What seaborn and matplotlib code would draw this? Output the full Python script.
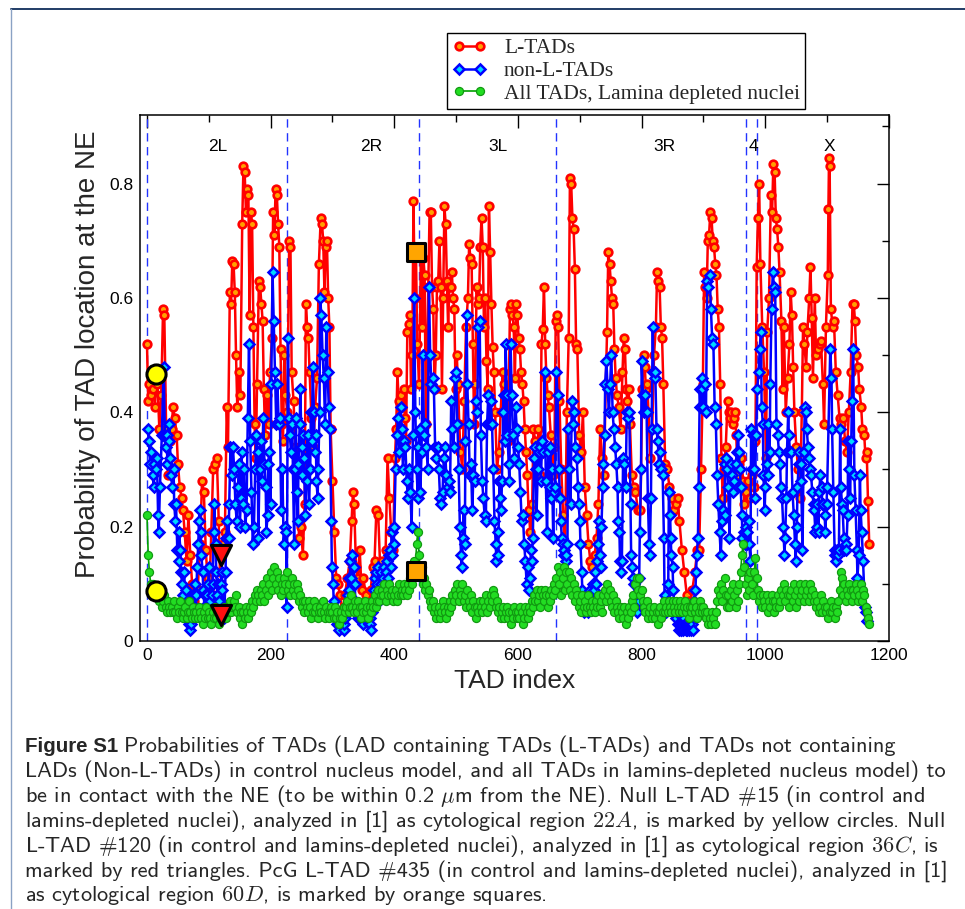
import numpy as np
import pandas as pd
import matplotlib
matplotlib.use("Agg")
import matplotlib.pyplot as plt
from matplotlib.lines import Line2D
from matplotlib.ticker import MultipleLocator
import seaborn as sns

# ---------------------------------------------------------------- data
# TADs that contain LADs (control nucleus model)
ltad_index = [
    0, 2, 4, 6, 8, 10, 13, 15, 17, 20,
    23, 26, 28, 31, 34, 37, 40, 42, 45, 48,
    50, 53, 56, 58, 61, 64, 67, 70, 73, 76,
    79, 82, 86, 89, 92, 95, 98, 101, 104, 107,
    110, 113, 116, 118, 120, 123, 126, 129, 131, 134,
    136, 138, 140, 142, 144, 146, 148, 151, 154, 156,
    158, 160, 162, 164, 166, 168, 170, 172, 174, 176,
    178, 181, 183, 185, 187, 189, 191, 194, 197, 199,
    202, 204, 206, 208, 210, 212, 214, 216, 218, 220,
    222, 224, 227, 230, 232, 234, 237, 240, 243, 246,
    249, 252, 255, 257, 259, 261, 263, 266, 269, 272,
    275, 278, 281, 283, 285, 287, 289, 291, 293, 295,
    297, 300, 303, 306, 309, 312, 316, 320, 324, 328,
    331, 333, 335, 338, 341, 344, 347, 350, 354, 358,
    362, 365, 368, 371, 374, 377, 380, 383, 386, 389,
    392, 395, 398, 401, 403, 405, 407, 409, 411, 413,
    415, 417, 419, 421, 423, 425, 427, 429, 431, 433,
    435, 437, 440, 443, 445, 447, 449, 451, 453, 455,
    457, 459, 461, 463, 465, 467, 469, 471, 473, 475,
    477, 479, 481, 483, 485, 487, 489, 491, 493, 495,
    497, 499, 501, 503, 505, 507, 510, 513, 516, 519,
    521, 523, 525, 527, 529, 531, 533, 535, 537, 539,
    541, 543, 545, 547, 549, 551, 553, 555, 557, 559,
    561, 563, 566, 569, 572, 575, 578, 581, 584, 587,
    589, 591, 593, 595, 597, 599, 601, 603, 605, 607,
    609, 611, 613, 615, 617, 620, 623, 625, 628, 631,
    633, 636, 638, 640, 642, 644, 646, 648, 650, 653,
    656, 659, 661, 663, 665, 667, 670, 673, 676, 679,
    682, 684, 686, 688, 690, 692, 694, 696, 699, 702,
    705, 708, 711, 714, 717, 720, 724, 727, 730, 733,
    736, 739, 742, 744, 746, 748, 750, 752, 754, 756,
    758, 760, 763, 766, 769, 771, 773, 775, 777, 779,
    781, 784, 787, 790, 794, 798, 801, 803, 805, 807,
    809, 811, 814, 817, 820, 823, 825, 827, 829, 831,
    833, 835, 838, 841, 845, 849, 852, 855, 858, 861,
    865, 869, 873, 877, 882, 886, 890, 893, 896, 899,
    901, 903, 905, 907, 909, 911, 913, 915, 917, 919,
    921, 923, 925, 927, 929, 931, 933, 936, 939, 941,
    943, 945, 947, 949, 951, 953, 955, 958, 961, 964,
    966, 969, 972, 975, 978, 981, 984, 986, 988, 990,
    992, 995, 998, 1001, 1003, 1006, 1009, 1011, 1013, 1015,
    1017, 1019, 1021, 1023, 1026, 1028, 1030, 1033, 1036, 1039,
    1041, 1043, 1045, 1047, 1050, 1053, 1056, 1059, 1061, 1063,
    1066, 1068, 1071, 1073, 1075, 1077, 1080, 1082, 1085, 1088,
    1090, 1093, 1095, 1098, 1101, 1102, 1103, 1104, 1106, 1109,
    1111, 1114, 1117, 1120, 1123, 1126, 1129, 1132, 1135, 1138,
    1141, 1143, 1145, 1147, 1150, 1152, 1155, 1157, 1160, 1162,
    1164, 1166, 1168,
]
ltad_prob = [
    .52, .42, .45, .43, .46, .44, .41, .467, .45, .37,
    .43, .58, .57, .37, .29, .35, .37, .41, .39, .36,
    .31, .27, .25, .23, .19, .14, .22, .15, .10, .07,
    .06, .09, .17, .28, .26, .16, .11, .09, .19, .30,
    .31, .32, .21, .12, .15, .17, .19, .41, .34, .61,
    .59, .665, .66, .61, .50, .41, .47, .43, .73, .83,
    .82, .75, .79, .78, .57, .75, .73, .55, .38, .32,
    .45, .63, .62, .59, .56, .44, .36, .43, .38, .47,
    .53, .75, .71, .79, .78, .73, .69, .51, .38, .35,
    .50, .43, .40, .70, .69, .47, .42, .34, .26, .18,
    .20, .15, .24, .59, .55, .53, .47, .39, .34, .41,
    .46, .66, .74, .73, .70, .61, .69, .70, .60, .55,
    .37, .28, .19, .11, .10, .08, .05, .08, .11, .14,
    .21, .26, .24, .13, .11, .16, .09, .11, .08, .06,
    .09, .13, .14, .23, .22, .13, .14, .13, .16, .32,
    .25, .19, .16, .32, .37, .47, .42, .37, .43, .41,
    .44, .39, .35, .54, .555, .57, .44, .50, .77, .60,
    .68, .52, .45, .67, .55, .67, .64, .38, .50, .62,
    .75, .75, .62, .58, .44, .50, .62, .63, .70, .62,
    .44, .60, .76, .73, .63, .55, .62, .62, .645, .60,
    .58, .44, .50, .45, .38, .33, .30, .42, .55, .60,
    .695, .67, .66, .52, .38, .45, .62, .59, .60, .69,
    .74, .69, .55, .60, .49, .44, .76, .68, .59, .515,
    .47, .40, .30, .33, .40, .47, .45, .40, .35, .58,
    .59, .57, .55, .46, .59, .57, .53, .51, .47, .45,
    .42, .37, .33, .29, .23, .19, .24, .37, .35, .32,
    .37, .29, .52, .545, .62, .52, .46, .43, .41, .36,
    .29, .34, .56, .57, .55, .42, .30, .22, .15, .40,
    .53, .81, .80, .74, .72, .65, .52, .51, .36, .33,
    .40, .27, .22, .17, .14, .13, .15, .18, .24, .37,
    .32, .29, .45, .54, .68, .66, .63, .60, .59, .51,
    .46, .43, .41, .37, .47, .53, .51, .44, .42, .44,
    .38, .29, .27, .26, .23, .23, .44, .50, .48, .44,
    .45, .40, .32, .37, .50, .55, .645, .63, .62, .55,
    .53, .45, .31, .30, .27, .25, .23, .24, .25, .21,
    .16, .12, .08, .07, .09, .12, .16, .16, .30, .45,
    .645, .62, .60, .70, .71, .75, .74, .70, .69, .66,
    .64, .58, .55, .45, .32, .25, .30, .34, .42, .40,
    .39, .40, .38, .39, .40, .36, .29, .31, .32, .28,
    .24, .26, .28, .25, .29, .27, .35, .655, .74, .80,
    .66, .55, .47, .32, .54, .60, .78, .75, .835, .82,
    .74, .72, .69, .645, .56, .44, .55, .40, .46, .52,
    .61, .57, .48, .40, .34, .30, .25, .40, .55, .52,
    .48, .54, .60, .655, .565, .46, .60, .50, .51, .52,
    .525, .45, .38, .55, .64, .755, .845, .83, .58, .55,
    .56, .47, .43, .39, .38, .39, .35, .33, .40, .47,
    .59, .59, .56, .50, .48, .44, .41, .37, .36, .32,
    .33, .245, .17,
]

# TADs without LADs (control nucleus model)
nonl_index = [
    1, 3, 5, 7, 9, 11, 12, 14, 16, 18,
    19, 21, 24, 27, 29, 30, 32, 33, 35, 36,
    38, 39, 41, 43, 44, 46, 47, 49, 51, 52,
    54, 55, 57, 59, 60, 62, 63, 65, 66, 68,
    69, 71, 72, 74, 75, 77, 78, 80, 81, 83,
    84, 85, 87, 88, 90, 91, 93, 94, 96, 97,
    99, 100, 102, 103, 105, 106, 108, 109, 111, 112,
    114, 115, 117, 119, 121, 122, 124, 125, 127, 128,
    130, 132, 133, 135, 137, 139, 141, 143, 145, 147,
    149, 150, 152, 153, 155, 157, 159, 161, 163, 165,
    167, 169, 171, 173, 175, 177, 179, 180, 182, 184,
    186, 188, 190, 192, 193, 195, 196, 198, 200, 201,
    203, 205, 207, 209, 211, 213, 215, 217, 219, 221,
    223, 225, 226, 228, 229, 231, 233, 235, 236, 238,
    239, 241, 242, 244, 245, 247, 248, 250, 251, 253,
    254, 256, 258, 260, 262, 264, 265, 267, 268, 270,
    271, 273, 274, 276, 277, 279, 280, 282, 284, 286,
    288, 290, 292, 294, 296, 298, 299, 301, 302, 304,
    305, 307, 308, 310, 311, 313, 314, 315, 317, 318,
    319, 321, 322, 323, 325, 326, 327, 329, 330, 332,
    334, 336, 337, 339, 340, 342, 343, 345, 346, 348,
    349, 351, 352, 353, 355, 356, 357, 359, 360, 361,
    363, 364, 366, 367, 369, 370, 372, 373, 375, 376,
    378, 379, 381, 382, 384, 385, 387, 388, 390, 391,
    393, 394, 396, 397, 399, 400, 402, 404, 406, 408,
    410, 412, 414, 416, 418, 420, 422, 424, 426, 428,
    430, 432, 434, 436, 438, 439, 441, 442, 444, 446,
    448, 450, 452, 454, 456, 458, 460, 462, 464, 466,
    468, 470, 472, 474, 476, 478, 480, 482, 484, 486,
    488, 490, 492, 494, 496, 498, 500, 502, 504, 506,
    508, 509, 511, 512, 514, 515, 517, 518, 520, 522,
    524, 526, 528, 530, 532, 534, 536, 538, 540, 542,
    544, 546, 548, 550, 552, 554, 556, 558, 560, 562,
    564, 565, 567, 568, 570, 571, 573, 574, 576, 577,
    579, 580, 582, 583, 585, 586, 588, 590, 592, 594,
    596, 598, 600, 602, 604, 606, 608, 610, 612, 614,
    616, 618, 619, 621, 622, 624, 626, 627, 629, 630,
    632, 634, 635, 637, 639, 641, 643, 645, 647, 649,
    651, 652, 654, 655, 657, 658, 660, 662, 664, 666,
    668, 669, 671, 672, 674, 675, 677, 678, 680, 681,
    683, 685, 687, 689, 691, 693, 695, 697, 698, 700,
    701, 703, 704, 706, 707, 709, 710, 712, 713, 715,
    716, 718, 719, 721, 722, 723, 725, 726, 728, 729,
    731, 732, 734, 735, 737, 738, 740, 741, 743, 745,
    747, 749, 751, 753, 755, 757, 759, 761, 762, 764,
    765, 767, 768, 770, 772, 774, 776, 778, 780, 782,
    783, 785, 786, 788, 789, 791, 792, 793, 795, 796,
    797, 799, 800, 802, 804, 806, 808, 810, 812, 813,
    815, 816, 818, 819, 821, 822, 824, 826, 828, 830,
    832, 834, 836, 837, 839, 840, 842, 843, 844, 846,
    847, 848, 850, 851, 853, 854, 856, 857, 859, 860,
    862, 863, 864, 866, 867, 868, 870, 871, 872, 874,
    875, 876, 878, 879, 880, 881, 883, 884, 885, 887,
    888, 889, 891, 892, 894, 895, 897, 898, 900, 902,
    904, 906, 908, 910, 912, 914, 916, 918, 920, 922,
    924, 926, 928, 930, 932, 934, 935, 937, 938, 940,
    942, 944, 946, 948, 950, 952, 954, 956, 957, 959,
    960, 962, 963, 965, 967, 968, 970, 971, 973, 974,
    976, 977, 979, 980, 982, 983, 985, 987, 989, 991,
    993, 994, 996, 997, 999, 1000, 1002, 1004, 1005, 1007,
    1008, 1010, 1012, 1014, 1016, 1018, 1020, 1022, 1024, 1025,
    1027, 1029, 1031, 1032, 1034, 1035, 1037, 1038, 1040, 1042,
    1044, 1046, 1048, 1049, 1051, 1052, 1054, 1055, 1057, 1058,
    1060, 1062, 1064, 1065, 1067, 1069, 1070, 1072, 1074, 1076,
    1078, 1079, 1081, 1083, 1084, 1086, 1087, 1089, 1091, 1092,
    1094, 1096, 1097, 1099, 1100, 1105, 1107, 1108, 1110, 1112,
    1113, 1115, 1116, 1118, 1119, 1121, 1122, 1124, 1125, 1127,
    1128, 1130, 1131, 1133, 1134, 1136, 1137, 1139, 1140, 1142,
    1144, 1146, 1148, 1149, 1151, 1153, 1154, 1156, 1158, 1161,
    1163, 1165,
]
nonl_prob = [
    .37, .35, .31, .33, .29, .27, .31, .30, .32, .22,
    .19, .27, .36, .48, .36, .34, .36, .31, .35, .38,
    .32, .29, .27, .30, .24, .21, .24, .16, .14, .19,
    .16, .12, .10, .08, .12, .06, .09, .05, .04, .03,
    .02, .03, .05, .04, .08, .06, .10, .08, .13, .17,
    .21, .23, .19, .15, .12, .09, .06, .08, .05, .08,
    .10, .13, .07, .05, .08, .10, .19, .24, .17, .12,
    .08, .10, .07, .10, .12, .09, .06, .04, .12, .18,
    .21, .18, .24, .34, .29, .34, .30, .24, .21, .27,
    .31, .20, .25, .33, .24, .30, .20, .23, .39, .52,
    .35, .26, .17, .20, .30, .36, .33, .18, .30, .35,
    .28, .39, .31, .27, .19, .22, .31, .33, .24, .45,
    .645, .56, .47, .38, .45, .38, .39, .23, .30, .17,
    .20, .19, .06, .53, .39, .36, .33, .38, .30, .17,
    .30, .39, .26, .21, .31, .38, .44, .34, .29, .36,
    .32, .22, .28, .36, .24, .30, .40, .35, .48, .40,
    .33, .36, .28, .25, .30, .40, .60, .57, .50, .46,
    .38, .55, .47, .41, .37, .21, .13, .10, .07, .05,
    .04, .03, .04, .03, .02, .03, .05, .04, .03, .02,
    .03, .04, .06, .05, .08, .11, .09, .14, .11, .15,
    .13, .10, .07, .05, .06, .04, .05, .06, .04, .05,
    .03, .04, .06, .05, .04, .06, .05, .03, .04, .03,
    .02, .05, .07, .09, .11, .12, .10, .13, .09, .07,
    .10, .12, .09, .11, .13, .10, .12, .14, .11, .15,
    .16, .13, .19, .15, .17, .20, .30, .36, .39, .33,
    .41, .37, .30, .35, .34, .28, .25, .30, .26, .20,
    .36, .60, .40, .30, .25, .34, .37, .26, .33, .50,
    .36, .38, .34, .30, .62, .50, .45, .46, .44, .34,
    .32, .34, .30, .25, .24, .26, .32, .34, .29, .27,
    .28, .26, .42, .37, .34, .46, .47, .38, .30, .20,
    .15, .13, .18, .23, .17, .35, .57, .45, .38, .29,
    .31, .23, .29, .28, .42, .40, .55, .56, .36, .28,
    .25, .22, .21, .38, .43, .38, .42, .38, .30, .21,
    .17, .14, .19, .15, .28, .25, .23, .28, .40, .43,
    .35, .52, .43, .36, .31, .28, .52, .43, .36, .32,
    .41, .37, .34, .31, .26, .21, .22, .17, .14, .10,
    .13, .09, .11, .16, .14, .18, .32, .34, .30, .22,
    .30, .33, .34, .28, .35, .33, .47, .28, .19, .33,
    .27, .34, .25, .30, .18, .26, .27, .47, .43, .30,
    .25, .21, .18, .17, .15, .16, .14, .15, .17, .37,
    .30, .24, .42, .38, .40, .34, .32, .27, .24, .21,
    .17, .12, .09, .06, .05, .07, .08, .06, .05, .07,
    .09, .06, .08, .10, .07, .09, .12, .10, .14, .17,
    .21, .15, .13, .20, .27, .31, .36, .45, .49, .44,
    .40, .45, .50, .40, .37, .34, .31, .27, .21, .19,
    .14, .12, .14, .32, .31, .27, .40, .39, .40, .24,
    .15, .13, .11, .10, .07, .06, .08, .05, .07, .11,
    .19, .30, .49, .43, .40, .43, .40, .25, .17, .15,
    .25, .37, .55, .47, .46, .47, .37, .35, .31, .33,
    .30, .29, .18, .08, .06, .05, .07, .10, .26, .22,
    .18, .15, .13, .09, .06, .05, .04, .05, .03, .02,
    .03, .02, .02, .03, .02, .04, .03, .02, .03, .02,
    .03, .02, .03, .02, .04, .03, .02, .04, .07, .09,
    .12, .15, .18, .27, .44, .41, .46, .44, .41, .45,
    .40, .63, .62, .64, .58, .53, .52, .41, .38, .29,
    .24, .19, .15, .21, .23, .22, .31, .32, .30, .27,
    .18, .31, .29, .26, .28, .31, .33, .36, .33, .30,
    .27, .22, .18, .19, .17, .20, .17, .19, .21, .17,
    .14, .37, .30, .36, .30, .25, .36, .44, .47, .51,
    .54, .41, .38, .29, .23, .27, .31, .38, .29, .33,
    .45, .58, .645, .62, .61, .38, .36, .33, .31, .27,
    .25, .20, .15, .18, .25, .33, .40, .36, .33, .33,
    .26, .22, .17, .14, .20, .27, .31, .33, .31, .28,
    .16, .33, .41, .40, .37, .34, .32, .30, .29, .26,
    .24, .23, .19, .20, .24, .19, .26, .29, .27, .24,
    .24, .22, .19, .24, .27, .51, .46, .37, .26, .16,
    .15, .14, .16, .15, .16, .37, .27, .24, .23, .18,
    .16, .17, .16, .22, .35, .30, .25, .35, .42, .51,
    .29, .23, .16, .11, .15, .29, .23, .19, .14, .06,
    .05, .035,
]

# all TADs in the lamin-depleted nucleus model (every second TAD index)
lamina_prob = [
    .22, .15, .12, .10, .09, .10, .08, .09, .09, .08,
    .07, .08, .06, .07, .08, .06, .05, .07, .06, .05,
    .06, .05, .07, .05, .04, .06, .05, .07, .05, .04,
    .05, .06, .04, .05, .07, .05, .04, .06, .05, .04,
    .05, .04, .06, .05, .04, .03, .05, .04, .06, .04,
    .05, .04, .03, .05, .04, .06, .04, .05, .03, .04,
    .05, .04, .06, .05, .04, .06, .05, .07, .05, .06,
    .07, .06, .08, .05, .06, .04, .05, .03, .05, .04,
    .06, .05, .04, .06, .05, .07, .06, .08, .07, .09,
    .08, .07, .09, .08, .10, .07, .09, .11, .08, .10,
    .12, .09, .11, .13, .10, .12, .09, .11, .08, .10,
    .09, .11, .10, .12, .09, .10, .08, .11, .09, .10,
    .08, .10, .09, .07, .08, .06, .07, .05, .07, .06,
    .05, .07, .06, .04, .05, .07, .05, .06, .04, .05,
    .06, .05, .07, .05, .04, .06, .05, .04, .05, .06,
    .05, .04, .06, .04, .05, .03, .04, .05, .04, .06,
    .05, .06, .07, .05, .06, .08, .06, .05, .07, .06,
    .05, .07, .06, .04, .06, .05, .07, .05, .06, .04,
    .06, .05, .07, .06, .08, .06, .07, .09, .07, .08,
    .09, .08, .10, .07, .09, .08, .10, .08, .09, .07,
    .08, .09, .07, .08, .10, .08, .09, .08, .10, .09,
    .08, .10, .09, .11, .10, .12, .14, .123, .17, .19,
    .15, .12, .13, .10, .11, .09, .10, .08, .09, .07,
    .06, .07, .05, .06, .04, .05, .06, .04, .05, .07,
    .06, .05, .04, .06, .05, .07, .06, .08, .07, .09,
    .08, .10, .07, .09, .08, .10, .07, .08, .06, .09,
    .07, .06, .08, .05, .07, .06, .04, .06, .05, .07,
    .06, .05, .07, .06, .08, .05, .07, .06, .08, .07,
    .09, .08, .06, .07, .05, .06, .04, .05, .06, .04,
    .05, .06, .04, .05, .03, .05, .04, .06, .05, .04,
    .05, .04, .06, .05, .03, .04, .06, .05, .04, .06,
    .05, .07, .06, .08, .07, .09, .07, .08, .06, .09,
    .08, .07, .09, .08, .06, .08, .07, .09, .08, .10,
    .09, .11, .13, .10, .12, .08, .11, .13, .09, .12,
    .10, .12, .09, .11, .08, .10, .07, .09, .08, .06,
    .07, .05, .08, .06, .07, .05, .06, .08, .06, .05,
    .07, .06, .05, .07, .06, .08, .06, .07, .05, .08,
    .09, .07, .10, .08, .09, .07, .06, .08, .05, .07,
    .06, .05, .04, .06, .05, .04, .06, .03, .05, .04,
    .06, .05, .07, .08, .06, .10, .11, .09, .11, .08,
    .09, .07, .06, .05, .07, .04, .05, .06, .04, .05,
    .06, .04, .05, .03, .05, .06, .04, .05, .07, .05,
    .06, .05, .07, .06, .05, .07, .06, .05, .07, .06,
    .05, .07, .06, .05, .06, .07, .05, .06, .04, .06,
    .05, .06, .07, .05, .06, .04, .05, .07, .06, .05,
    .06, .05, .04, .05, .03, .04, .03, .05, .04, .03,
    .05, .07, .09, .08, .10, .07, .09, .11, .08, .06,
    .08, .06, .09, .07, .10, .08, .06, .09, .07, .10,
    .12, .15, .17, .13, .10, .08, .11, .09, .12, .10,
    .08, .12, .145, .11, .09, .07, .08, .06, .08, .07,
    .06, .08, .05, .07, .06, .08, .07, .05, .07, .06,
    .08, .06, .07, .09, .08, .10, .07, .09, .08, .06,
    .08, .09, .07, .10, .08, .06, .09, .07, .10, .08,
    .09, .07, .10, .08, .09, .07, .10, .08, .09, .07,
    .08, .06, .07, .05, .06, .08, .05, .07, .06, .05,
    .06, .04, .05, .07, .05, .06, .04, .06, .05, .07,
    .09, .12, .11, .08, .10, .07, .09, .08, .10, .09,
    .07, .09, .08, .10, .09, .07, .08, .10, .07, .09,
    .08, .06, .05, .04, .03,
]

# highlighted TADs: control value and lamin-depleted value
marked_index = [15, 120, 435]
marked_control = [0.467, 0.15, 0.68]
marked_depleted = [0.088, 0.046, 0.123]

arm_bounds = [0, 227, 440, 661, 968, 987]
arm_names = ["2L", "2R", "3L", "3R", "4", "X"]
arm_label_x = [114, 363, 568, 836, 980, 1104]

ltad_df = pd.DataFrame({"tad": ltad_index, "prob": ltad_prob})
nonl_df = pd.DataFrame({"tad": nonl_index, "prob": nonl_prob})
lam_df = pd.DataFrame({"tad": np.arange(len(lamina_prob)) * 2, "prob": lamina_prob})

# ---------------------------------------------------------------- style
sns.set_style("white")
plt.rcParams["font.family"] = ["Liberation Sans", "DejaVu Sans"]
plt.rcParams["mathtext.fontset"] = "cm"

W, H = 965, 909
fig = plt.figure(figsize=(W / 100, H / 100), dpi=100)
fig.patch.set_facecolor("white")
ax = fig.add_axes([140 / W, 1 - 641 / H, 749 / W, 526 / H])

for b in arm_bounds:
    ax.axvline(b, color="#2233ff", lw=1.0, ls=(0, (6, 4)), zorder=1)

sns.lineplot(data=ltad_df, x="tad", y="prob", ax=ax, sort=False, estimator=None,
             color="#ff0000", linewidth=1.8, marker="o", markersize=5.5,
             markerfacecolor="#ffa000", markeredgecolor="#ff0000",
             markeredgewidth=1.9, label="L-TADs", zorder=2)
sns.lineplot(data=nonl_df, x="tad", y="prob", ax=ax, sort=False, estimator=None,
             color="#0000ff", linewidth=1.8, marker="D", markersize=4.6,
             markerfacecolor="#00d8ff", markeredgecolor="#0000ff",
             markeredgewidth=1.8, label="non-L-TADs", zorder=3)
sns.lineplot(data=lam_df, x="tad", y="prob", ax=ax, sort=False, estimator=None,
             color="#00a000", linewidth=1.2, marker="o", markersize=5.8,
             markerfacecolor="#22dd22", markeredgecolor="#119911",
             markeredgewidth=0.9, label="All TADs, Lamina depleted nuclei", zorder=4)

# highlighted TADs
sns.scatterplot(x=[marked_index[0]] * 2, y=[marked_control[0], marked_depleted[0]], ax=ax,
                marker="o", s=190, color="#ffff00", edgecolor="black", linewidth=2.2,
                zorder=6, legend=False)
sns.scatterplot(x=[marked_index[1]] * 2, y=[marked_control[1], marked_depleted[1]], ax=ax,
                marker="v", s=210, color="#ff1010", edgecolor="black", linewidth=2.2,
                zorder=6, legend=False)
sns.scatterplot(x=[marked_index[2]] * 2, y=[marked_control[2], marked_depleted[2]], ax=ax,
                marker="s", s=150, color="#ffa500", edgecolor="black", linewidth=2.2,
                zorder=6, legend=False)

for name, xpos in zip(arm_names, arm_label_x):
    ax.text(xpos, 0.865, name, ha="center", va="center", fontsize=12.5, color="black")

ax.set_xlim(-11.3, 1200)
ax.set_ylim(0, 0.92)
ax.set_xticks([0, 200, 400, 600, 800, 1000, 1200])
ax.set_xticklabels(["0", "200", "400", "600", "800", "1000", "1200"])
ax.set_yticks([0, 0.2, 0.4, 0.6, 0.8])
ax.set_yticklabels(["0", "0.2", "0.4", "0.6", "0.8"])
ax.xaxis.set_minor_locator(MultipleLocator(100))
ax.yaxis.set_minor_locator(MultipleLocator(0.1))
ax.tick_params(which="both", direction="in", top=True, right=True, width=1.0,
               colors="black", labelsize=12.5, pad=5)
ax.tick_params(which="major", length=9)
ax.tick_params(which="minor", length=5)
for s in ax.spines.values():
    s.set_color("black")
    s.set_linewidth(1.1)

ax.set_xlabel("TAD index", fontsize=19, labelpad=4)
ax.set_ylabel("Probability of TAD location at the NE", fontsize=20)
ax.yaxis.set_label_coords(-0.052, 0.545)

handles, labels = ax.get_legend_handles_labels()
leg = ax.legend(handles[:3], labels[:3], loc="upper left",
                bbox_to_anchor=(307 / 749, (641 - 33) / 526), borderaxespad=0,
                numpoints=2, frameon=True, fancybox=False, framealpha=1,
                edgecolor="black", prop={"family": "Liberation Serif", "size": 15.5},
                handlelength=1.6, handletextpad=0.8, labelspacing=0.12,
                borderpad=0.25)
leg.get_frame().set_linewidth(1.0)

# page frame
fig.add_artist(Line2D([11 / W, 1.0], [1 - 9 / H, 1 - 9 / H], transform=fig.transFigure,
                      color="#203c66", lw=1.4))
fig.add_artist(Line2D([11 / W, 11 / W], [0, 1 - 9 / H], transform=fig.transFigure,
                      color="#8aa2c4", lw=1.0))

# caption
cap_size = 16.1
x0 = 25 / W
base = [752, 777, 802, 827, 852, 877, 901]
bold = fig.text(x0, 1 - base[0] / H, "Figure S1", fontsize=14.8, fontweight="bold",
                family="Liberation Sans", va="baseline", ha="left")
fig.canvas.draw()
bb = bold.get_window_extent(fig.canvas.get_renderer())
fig.text(bb.x1 / W + 6 / W, 1 - base[0] / H,
         "Probabilities of TADs (LAD containing TADs (L-TADs) and TADs not containing",
         fontsize=cap_size, family="cmss10", va="baseline", ha="left")
cap_lines = [
    "LADs (Non-L-TADs) in control nucleus model, and all TADs in lamins-depleted nucleus model) to",
    r"be in contact with the NE (to be within 0.2 $\mu$m from the NE). Null L-TAD #15 (in control and",
    r"lamins-depleted nuclei), analyzed in [1] as cytological region $22A$, is marked by yellow circles. Null",
    r"L-TAD #120 (in control and lamins-depleted nuclei), analyzed in [1] as cytological region $36C$, is",
    "marked by red triangles. PcG L-TAD #435 (in control and lamins-depleted nuclei), analyzed in [1]",
    r"as cytological region $60D$, is marked by orange squares.",
]
for txt, yb in zip(cap_lines, base[1:]):
    fig.text(x0, 1 - yb / H, txt, fontsize=cap_size, family="cmss10",
             va="baseline", ha="left")

fig.savefig("out.png", dpi=100, facecolor="white")
